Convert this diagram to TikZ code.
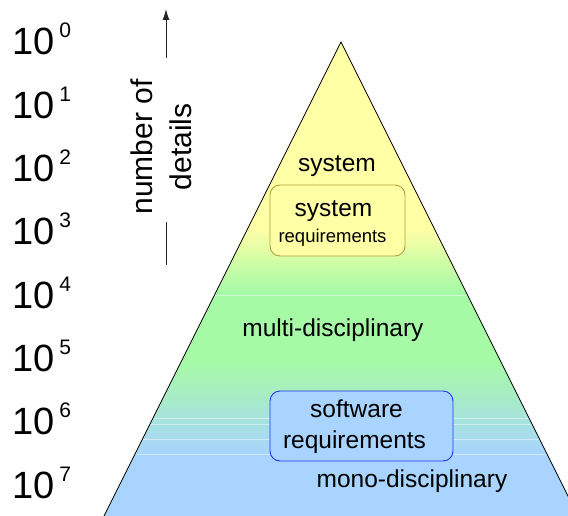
\documentclass[tikz,border=0pt]{standalone}
\usepackage{fontspec}
\setmainfont{Liberation Sans}
\usetikzlibrary{arrows.meta}
\definecolor{pyel}{HTML}{FFFFA6}
\definecolor{pgrn}{HTML}{A6FAA6}
\definecolor{pblu}{HTML}{A8D4FF}
\definecolor{yedge}{HTML}{B0A040}
\definecolor{bedge}{HTML}{2238EE}
\tikzset{
  big/.style={font=\fontsize{24.5}{28}\selectfont, inner sep=0pt, anchor=base},
  small/.style={font=\fontsize{18.5}{21}\selectfont, inner sep=0pt, anchor=base},
  power/.style={font=\fontsize{38}{44}\selectfont, inner sep=0pt, anchor=base west},
  sysbox/.style={draw=yedge, fill=pyel, line width=0.9pt, rounded corners=10pt, minimum width=135pt, minimum height=71pt, inner sep=0pt},
  swbox/.style={draw=bedge, fill=pblu, line width=0.9pt, rounded corners=10pt, minimum width=183pt, minimum height=70pt, inner sep=0pt},
  band/.style={draw=white, opacity=0.45, line width=0.6pt}
}
\newcommand{\pw}[1]{10\kern5pt\raisebox{17pt}{\fontsize{21}{24}\selectfont #1}}
\begin{document}
\begin{tikzpicture}[x=1pt, y=-1pt]
\useasboundingbox (0,0) rectangle (568,516);
\clip (0,0) rectangle (568,516);
% pyramid
\coordinate (apex) at (341,42);
\coordinate (bl) at (100,524);
\coordinate (br) at (582,524);
\begin{scope}
  \clip (apex) -- (bl) -- (br) -- cycle;
  \fill[pyel] (90,40) rectangle (590,228);
  \shade[top color=pyel, bottom color=pgrn] (90,228) rectangle (590,292);
  \fill[pgrn] (90,292) rectangle (590,362);
  \shade[top color=pgrn, bottom color=pblu] (90,362) rectangle (590,455);
  \fill[pblu] (90,455) rectangle (590,530);
  \foreach \yy in {295,418,424,439,454} \draw[band] (90,\yy) -- (590,\yy);
\end{scope}
\draw[line width=0.8pt, line join=miter] (apex) -- (bl) -- (br) -- cycle;
% powers of ten
\node[power] (p0) at (12,55) {\pw{0}};
\node[power] (p1) at (12,118.3) {\pw{1}};
\node[power] (p2) at (12,181.6) {\pw{2}};
\node[power] (p3) at (12,244.9) {\pw{3}};
\node[power] (p4) at (12,308.1) {\pw{4}};
\node[power] (p5) at (12,371.4) {\pw{5}};
\node[power] (p6) at (12,434.7) {\pw{6}};
\node[power] (p7) at (12,498) {\pw{7}};
% axis label
\node[font=\fontsize{30}{39}\selectfont, rotate=90, align=center, inner sep=0pt] (axis) at (161.5,147) {number of\\details};
\coordinate (a0) at (166,265);
\coordinate (a1) at (166,222);
\coordinate (a2) at (166,58);
\coordinate (a3) at (166,9);
\draw[line width=1pt, draw=black!85] (a0) -- (a1);
\draw[line width=1pt, draw=black!85, -{Latex[length=11pt,width=7pt]}] (a2) -- (a3);
% labels
\node[big] (sys) at (337,172) {system};
\node[sysbox] (sysreq) at (337.5,220.5) {};
\node[big] (sysreqA) at (333.5,217) {system};
\node[small] (sysreqB) at (332.5,243) {requirements};
\node[big] (multi) at (333,336) {multi-disciplinary};
\node[swbox] (swreq) at (361.5,426) {};
\node[big] (swreqA) at (356.5,417) {software};
\node[big] (swreqB) at (354.5,448) {requirements};
\node[big] (mono) at (412,487) {mono-disciplinary};
\end{tikzpicture}
\end{document}
